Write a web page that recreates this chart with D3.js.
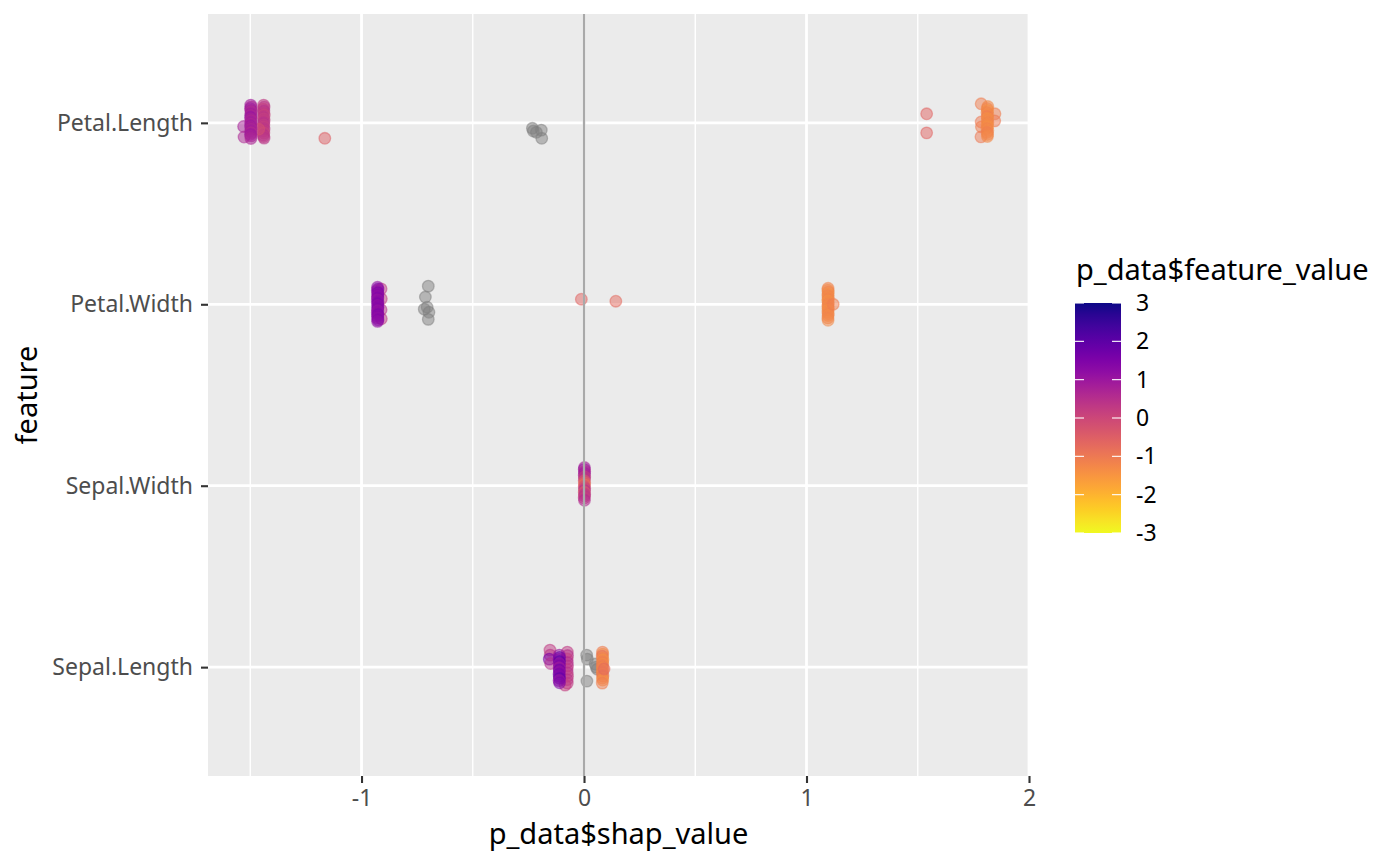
<!DOCTYPE html>
<html>
<head>
<meta charset="utf-8">
<script src="https://cdn.jsdelivr.net/npm/d3@7"></script>
<style>
  body { margin: 0; background: #fff; }
  svg { display: block; font-family: "Noto Sans", "Open Sans", sans-serif; }
</style>
</head>
<body>
<svg id="chart" width="1400" height="866"></svg>
<script>
// Categories, top to bottom
const features = ["Petal.Length", "Petal.Width", "Sepal.Width", "Sepal.Length"];
const xTicks = [-1, 0, 1, 2];
const xMinorTicks = [-1.5, -0.5, 0.5, 1.5];
const legendTicks = [3, 2, 1, 0, -1, -2, -3];

// Points: [shap_value, vertical jitter (category units), feature_value or null = NA]
const petalLength = [
    [-1.530, -0.020, 0.8], [-1.528, -0.078, 0.7],
    [-1.440, 0.098, 0.3], [-1.438, 0.087, 0.4], [-1.441, 0.076, 0.2], [-1.439, 0.065, 0.5],
    [-1.440, 0.054, 0.3], [-1.437, 0.043, 0.1], [-1.441, 0.032, 0.4], [-1.439, 0.021, 0.2],
    [-1.438, 0.010, 0.3], [-1.440, -0.001, 0.5], [-1.439, -0.012, 0.3], [-1.441, -0.023, 0.2],
    [-1.438, -0.034, 0.4], [-1.440, -0.045, 0.3], [-1.439, -0.056, 0.1], [-1.441, -0.067, 0.5],
    [-1.440, -0.076, 0.3], [-1.438, -0.084, 0.4],
    [-1.462, -0.035, -0.2],
    [-1.498, 0.098, 0.9], [-1.496, 0.088, 0.7], [-1.499, 0.079, 1.0], [-1.497, 0.069, 0.8],
    [-1.495, 0.060, 0.6], [-1.498, 0.050, 0.9], [-1.496, 0.041, 0.7], [-1.499, 0.031, 1.1],
    [-1.497, 0.022, 0.8], [-1.495, 0.012, 0.6], [-1.498, 0.003, 0.9], [-1.496, -0.007, 0.7],
    [-1.499, -0.016, 1.0], [-1.497, -0.026, 0.8], [-1.495, -0.035, 0.7], [-1.498, -0.045, 0.9],
    [-1.496, -0.054, 0.6], [-1.499, -0.064, 1.0], [-1.497, -0.073, 0.8], [-1.497, -0.086, 0.7],
    [-1.165, -0.085, -0.5],
    [-0.232, -0.030, null], [-0.228, -0.045, null], [-0.214, -0.052, null],
    [-0.192, -0.040, null], [-0.190, -0.085, null],
    [1.540, 0.050, -0.6], [1.540, -0.055, -0.6],
    [1.785, 0.105, -1.1], [1.785, 0.005, -1.0], [1.786, -0.022, -1.1], [1.784, -0.077, -1.0],
    [1.847, 0.050, -1.1], [1.846, 0.011, -1.0],
    [1.815, 0.090, -1.3], [1.812, 0.079, -1.2], [1.814, 0.068, -1.4], [1.811, 0.057, -1.2],
    [1.815, 0.046, -1.3], [1.812, 0.035, -1.1], [1.814, 0.024, -1.4], [1.813, 0.013, -1.3],
    [1.815, 0.002, -1.2], [1.812, -0.009, -1.3], [1.814, -0.020, -1.4], [1.811, -0.031, -1.2],
    [1.815, -0.042, -1.3], [1.812, -0.053, -1.1], [1.814, -0.064, -1.2], [1.813, -0.075, -1.3]
];

const petalWidth = [
    [-0.912, 0.085, 0.3], [-0.911, 0.030, 0.2], [-0.912, -0.030, 0.4], [-0.911, -0.080, 0.3],
    [-0.928, 0.094, 1.2], [-0.926, 0.084, 1.4], [-0.929, 0.074, 1.1], [-0.927, 0.064, 1.5],
    [-0.926, 0.054, 1.3], [-0.928, 0.044, 1.2], [-0.927, 0.034, 1.4], [-0.929, 0.024, 1.1],
    [-0.926, 0.014, 1.3], [-0.928, 0.004, 1.5], [-0.927, -0.006, 1.2], [-0.926, -0.016, 1.3],
    [-0.928, -0.026, 1.4], [-0.927, -0.036, 1.1], [-0.929, -0.046, 1.2], [-0.926, -0.056, 1.5],
    [-0.928, -0.066, 1.3], [-0.927, -0.076, 1.2], [-0.926, -0.086, 1.4], [-0.928, -0.094, 1.2],
    [-0.700, 0.100, null], [-0.713, 0.040, null], [-0.705, -0.016, null],
    [-0.697, -0.044, null], [-0.700, -0.083, null], [-0.718, -0.027, null],
    [-0.012, 0.028, -0.6], [0.143, 0.017, -0.7],
    [1.097, 0.088, -1.2], [1.096, 0.078, -1.3], [1.098, 0.068, -1.2], [1.097, 0.058, -1.4],
    [1.096, 0.048, -1.2], [1.098, 0.038, -1.3], [1.097, 0.028, -1.2], [1.096, 0.018, -1.4],
    [1.098, 0.008, -1.3], [1.097, -0.002, -1.2], [1.096, -0.012, -1.3], [1.098, -0.022, -1.2],
    [1.097, -0.032, -1.4], [1.096, -0.042, -1.3], [1.098, -0.052, -1.2], [1.097, -0.062, -1.3],
    [1.096, -0.075, -1.2], [1.097, -0.088, -1.3],
    [1.120, 0.000, -1.1]
];

const sepalWidth = [
    [0.002, 0.100, 0.8], [0.001, 0.090, 1.0], [0.003, 0.079, 0.6], [0.002, 0.069, 0.9],
    [0.001, 0.058, 0.7], [0.003, 0.048, 0.2], [0.002, 0.037, 0.4], [0.001, 0.027, -0.3],
    [0.003, 0.016, -0.6], [0.002, 0.006, -0.8], [0.001, -0.005, -0.2], [0.003, -0.015, 0.1],
    [0.002, -0.026, 0.5], [0.001, -0.036, -0.4], [0.003, -0.047, 0.3], [0.002, -0.057, 0.4],
    [0.001, -0.068, 0.2], [0.002, -0.080, 0.6]
];

const sepalLength = [
    [-0.153, 0.094, 0.3], [-0.152, 0.066, 0.4], [-0.156, 0.044, 1.6], [-0.150, 0.020, 0.5],
    [-0.075, 0.083, 0.3], [-0.074, 0.064, 0.5], [-0.076, 0.045, 0.2], [-0.075, 0.026, 0.6],
    [-0.074, 0.007, 0.4], [-0.076, -0.012, 0.3], [-0.075, -0.031, 0.5], [-0.074, -0.050, 0.2],
    [-0.076, -0.069, 0.4], [-0.075, -0.088, 0.3], [-0.085, -0.099, 0.2],
    [-0.111, 0.066, 1.0], [-0.110, 0.054, 1.8], [-0.112, 0.043, 1.3], [-0.110, 0.031, 2.0],
    [-0.111, 0.019, 1.1], [-0.110, 0.008, 1.5], [-0.112, -0.004, 0.9], [-0.111, -0.016, 1.7],
    [-0.110, -0.027, 1.2], [-0.112, -0.039, 1.6], [-0.111, -0.051, 1.4], [-0.110, -0.062, 1.9],
    [-0.112, -0.074, 1.1], [-0.110, -0.086, 1.5],
    [0.012, 0.066, null], [0.015, 0.044, null], [0.050, 0.017, null],
    [0.055, 0.000, null], [0.060, -0.011, null], [0.013, -0.077, null],
    [0.083, 0.083, -1.1], [0.084, 0.072, -1.3], [0.082, 0.061, -0.9], [0.083, 0.050, -1.2],
    [0.085, 0.039, -1.4], [0.083, 0.028, -1.1], [0.084, 0.017, -1.3], [0.082, 0.006, -1.0],
    [0.083, -0.005, -1.2], [0.084, -0.016, -1.4], [0.082, -0.027, -1.1], [0.083, -0.038, -1.3],
    [0.085, -0.049, -0.9], [0.083, -0.060, -1.2], [0.084, -0.071, -1.4], [0.082, -0.088, -1.1],
    [0.090, -0.010, -0.7]
];

// Setup
const svg = d3.select("#chart");
const panel = { left: 208, right: 1029, top: 14, bottom: 776 };

const x = d3.scaleLinear().domain([-1.69, 2.0]).range([panel.left, panel.right]);
const y = d3.scalePoint().domain(features).range([panel.top, panel.bottom]).padding(0.6);
const color = d3.scaleSequential(d3.interpolatePlasma).domain([3, -3]);

const toRows = (feature, pts) => pts.map(p => ({ feature, shap: p[0], jit: p[1], value: p[2] }));
const data = [].concat(
    toRows("Sepal.Length", sepalLength),
    toRows("Sepal.Width", sepalWidth),
    toRows("Petal.Width", petalWidth),
    toRows("Petal.Length", petalLength)
);

svg.append("rect").attr("width", 1400).attr("height", 866).attr("fill", "#fff");

svg.append("clipPath").attr("id", "panel-clip")
    .append("rect")
    .attr("x", panel.left).attr("y", panel.top)
    .attr("width", panel.right - panel.left).attr("height", panel.bottom - panel.top);

const plot = svg.append("g").attr("clip-path", "url(#panel-clip)");

plot.append("rect")
    .attr("x", panel.left).attr("y", panel.top)
    .attr("width", panel.right - panel.left).attr("height", panel.bottom - panel.top)
    .attr("fill", "#EBEBEB");

// grid
plot.selectAll(".minor").data(xMinorTicks).join("line")
    .attr("x1", d => x(d)).attr("x2", d => x(d))
    .attr("y1", panel.top).attr("y2", panel.bottom)
    .attr("stroke", "#fff").attr("stroke-width", 1.4);

plot.selectAll(".major-x").data(xTicks).join("line")
    .attr("x1", d => x(d)).attr("x2", d => x(d))
    .attr("y1", panel.top).attr("y2", panel.bottom)
    .attr("stroke", "#fff").attr("stroke-width", 2.8);

plot.selectAll(".major-y").data(features).join("line")
    .attr("x1", panel.left).attr("x2", panel.right)
    .attr("y1", d => y(d)).attr("y2", d => y(d))
    .attr("stroke", "#fff").attr("stroke-width", 2.8);

// points
plot.append("g").selectAll("circle").data(data).join("circle")
    .attr("cx", d => x(d.shap))
    .attr("cy", d => y(d.feature) - d.jit * y.step())
    .attr("r", 5.8)
    .attr("fill", d => d.value === null ? "#7F7F7F" : color(d.value))
    .attr("stroke", d => d.value === null ? "#7F7F7F" : color(d.value))
    .attr("fill-opacity", 0.5)
    .attr("stroke-opacity", 0.5)
    .attr("stroke-width", 1.3);

// zero line on top
plot.append("line")
    .attr("x1", x(0)).attr("x2", x(0))
    .attr("y1", panel.top).attr("y2", panel.bottom)
    .attr("stroke", "#A9A9A9").attr("stroke-width", 2.3);

// axes
const styleAxis = g => {
    g.select(".domain").remove();
    g.selectAll(".tick line").attr("stroke", "#333333").attr("stroke-width", 2.1);
    g.selectAll(".tick text").attr("fill", "#4D4D4D").style("font-size", "23px")
        .style("font-family", "'Noto Sans', 'Open Sans', sans-serif");
};

svg.append("g")
    .attr("transform", `translate(0,${panel.bottom})`)
    .call(d3.axisBottom(x).tickValues(xTicks).tickFormat(d => String(d)).tickSize(7).tickPadding(7))
    .call(styleAxis);

svg.append("g")
    .attr("transform", `translate(${panel.left},0)`)
    .call(d3.axisLeft(y).tickSize(7).tickPadding(8))
    .call(styleAxis);

svg.append("text")
    .attr("x", (panel.left + panel.right) / 2).attr("y", 844)
    .attr("text-anchor", "middle")
    .style("font-size", "29px").attr("fill", "#000")
    .text("p_data$shap_value");

svg.append("text")
    .attr("transform", `translate(37,${(panel.top + panel.bottom) / 2}) rotate(-90)`)
    .attr("text-anchor", "middle")
    .style("font-size", "29px").attr("fill", "#000")
    .text("feature");

// legend (colour bar)
const bar = { x: 1075, w: 46 };
const ly = d3.scaleLinear().domain([3, -3]).range([303, 533]);

const grad = svg.append("defs").append("linearGradient")
    .attr("id", "plasma-grad")
    .attr("x1", 0).attr("y1", 0).attr("x2", 0).attr("y2", 1);
grad.selectAll("stop").data(d3.range(0, 1.0001, 0.05)).join("stop")
    .attr("offset", d => d)
    .attr("stop-color", d => color(ly.invert(303 + d * 230)));

svg.append("rect")
    .attr("x", bar.x).attr("y", ly(3))
    .attr("width", bar.w).attr("height", ly(-3) - ly(3))
    .attr("fill", "url(#plasma-grad)");

const legendG = svg.append("g");
legendG.selectAll(".lt-left").data(legendTicks).join("line")
    .attr("x1", bar.x).attr("x2", bar.x + 9)
    .attr("y1", d => ly(d)).attr("y2", d => ly(d))
    .attr("stroke", "#fff").attr("stroke-width", 1.1);
legendG.selectAll(".lt-right").data(legendTicks).join("line")
    .attr("class", "lt-right")
    .attr("x1", bar.x + bar.w - 9).attr("x2", bar.x + bar.w)
    .attr("y1", d => ly(d)).attr("y2", d => ly(d))
    .attr("stroke", "#fff").attr("stroke-width", 1.1);

svg.append("g").selectAll("text").data(legendTicks).join("text")
    .attr("x", 1136)
    .attr("y", d => ly(d))
    .attr("dy", "0.35em")
    .style("font-size", "23px").attr("fill", "#000")
    .text(d => String(d));

svg.append("text")
    .attr("x", 1076).attr("y", 280)
    .style("font-size", "29px").attr("fill", "#000")
    .text("p_data$feature_value");
</script>
</body>
</html>
